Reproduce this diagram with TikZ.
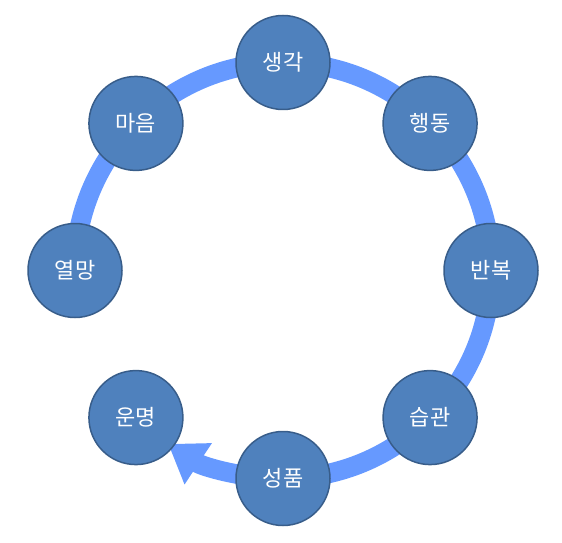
\documentclass[tikz,border=0pt]{standalone}
\usepackage{fontspec}
\newfontfamily\krfont{Noto Sans CJK KR}
\usetikzlibrary{arrows.meta,backgrounds}

\definecolor{nodecolor}{RGB}{79,129,189}
\definecolor{bordercolor}{RGB}{56,93,138}
\definecolor{bandcolor}{RGB}{102,153,255}

\begin{document}
\begin{tikzpicture}[line cap=butt, line join=round, x=1pt, y=1pt,
	etapa/.style={circle, fill=nodecolor, draw=bordercolor, line width=1.5pt, minimum size=94pt, inner sep=0pt, text=white, font=\krfont\fontsize{22}{26}\selectfont}]
		
		\useasboundingbox (0,0) rectangle (562,542);
		\coordinate (centro) at (283,271.5);
		
		% Etapas del ciclo
		\foreach \ang/\nombre/\texto in {90/thought/생각, 45/action/행동, 0/repeat/반복, -45/habit/습관, -90/character/성품, -135/destiny/운명, 180/desire/열망, 135/mind/마음}
		\node[etapa] (\nombre) at ([shift={(\ang:208)}]centro) {\texto};
		
		% Banda circular con flecha hacia el destino
		\begin{scope}[on background layer]
		\draw[color=bandcolor, line width=19.5pt, -{Triangle[width=47pt, length=36pt]}] (desire.center) arc[start angle=180, end angle=-123.5, radius=208];
		\end{scope}
		
	\end{tikzpicture}
\end{document}
